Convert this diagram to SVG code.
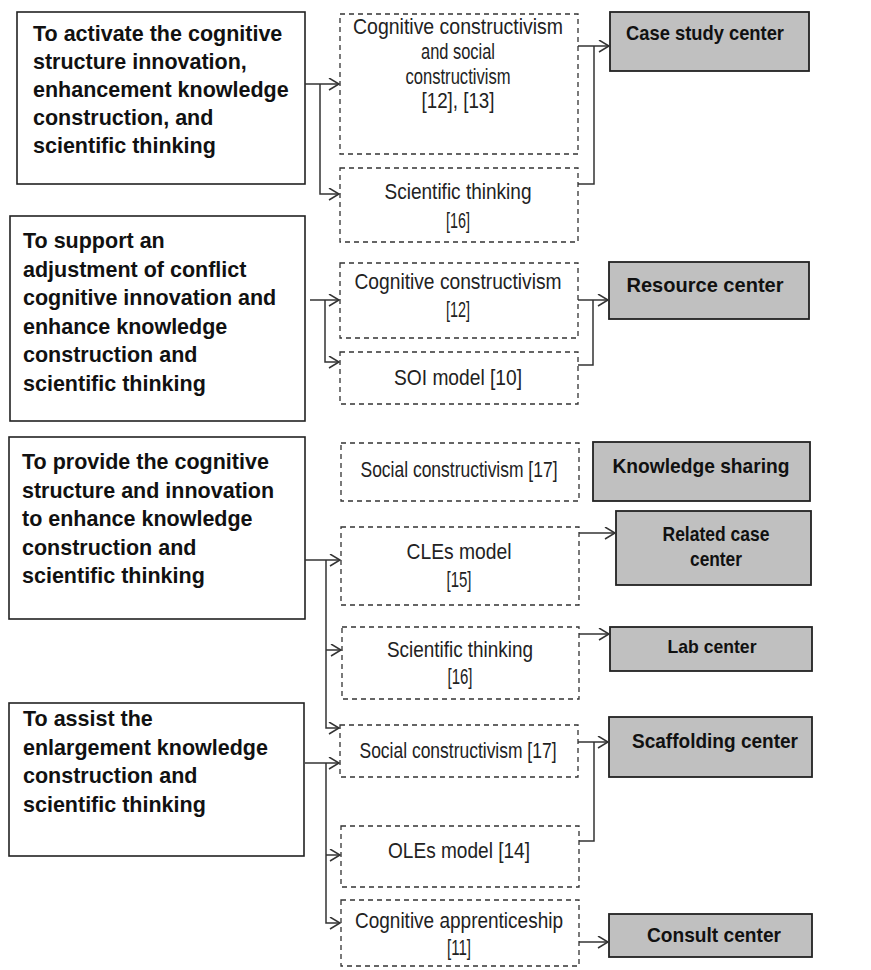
<svg xmlns="http://www.w3.org/2000/svg" width="871" height="970" viewBox="0 0 871 970">
<style>
.solid{fill:#fff;stroke:#222;stroke-width:1.6}
.dash{fill:#fff;stroke:#333;stroke-width:1.3;stroke-dasharray:5 4}
.gray{fill:#c0c0c0;stroke:#222;stroke-width:1.8}
.lt{font-family:"Liberation Sans",Arial,sans-serif;font-weight:bold;font-size:21.5px;fill:#111}
.mt{font-family:"Liberation Sans",Arial,sans-serif;font-size:22px;fill:#222;text-anchor:middle}
.rt{font-family:"Liberation Sans",Arial,sans-serif;font-weight:bold;font-size:21px;fill:#111;text-anchor:middle}
.conn{stroke:#333;stroke-width:1.5;fill:none}
</style>
<defs>
<marker id="arr" markerUnits="userSpaceOnUse" markerWidth="14" markerHeight="14" refX="11" refY="6" orient="auto">
<path d="M1,0 L11,6 L1,12" fill="none" stroke="#333" stroke-width="1.5"/>
</marker>
</defs>

<g id="goalA">
<rect class="solid" x="17" y="12" width="288" height="172"/>
<text class="lt" x="33" y="41">To activate the cognitive</text>
<text class="lt" x="33" y="69">structure innovation,</text>
<text class="lt" x="33" y="97">enhancement knowledge</text>
<text class="lt" x="33" y="125">construction, and</text>
<text class="lt" x="33" y="153">scientific thinking</text>
</g>
<g id="goalB">
<rect class="solid" x="10" y="216" width="295" height="205"/>
<text class="lt" x="23" y="248">To support an</text>
<text class="lt" x="23" y="276.5">adjustment of conflict</text>
<text class="lt" x="23" y="305">cognitive innovation and</text>
<text class="lt" x="23" y="333.5">enhance knowledge</text>
<text class="lt" x="23" y="362">construction and</text>
<text class="lt" x="23" y="390.5">scientific thinking</text>
</g>
<g id="goalC">
<rect class="solid" x="9" y="437" width="296" height="182"/>
<text class="lt" x="22" y="469">To provide the cognitive</text>
<text class="lt" x="22" y="497.5">structure and innovation</text>
<text class="lt" x="22" y="526">to enhance knowledge</text>
<text class="lt" x="22" y="554.5">construction and</text>
<text class="lt" x="22" y="583">scientific thinking</text>
</g>
<g id="goalD">
<rect class="solid" x="9" y="703" width="295" height="153"/>
<text class="lt" x="23" y="726">To assist the</text>
<text class="lt" x="23" y="754.5">enlargement knowledge</text>
<text class="lt" x="23" y="783">construction and</text>
<text class="lt" x="23" y="811.5">scientific thinking</text>
</g>

<g id="m1">
<rect class="dash" x="340" y="14" width="238" height="140"/>
<text class="mt" x="458" y="34" textLength="210" lengthAdjust="spacingAndGlyphs">Cognitive constructivism</text>
<text class="mt" x="458" y="59" textLength="74" lengthAdjust="spacingAndGlyphs">and social</text>
<text class="mt" x="458" y="84" textLength="105" lengthAdjust="spacingAndGlyphs">constructivism</text>
<text class="mt" x="458" y="108" textLength="73" lengthAdjust="spacingAndGlyphs">[12], [13]</text>
</g>
<g id="m2">
<rect class="dash" x="340" y="168" width="238" height="74"/>
<text class="mt" x="458" y="199" textLength="147" lengthAdjust="spacingAndGlyphs">Scientific thinking</text>
<text class="mt" x="458" y="228" textLength="24" lengthAdjust="spacingAndGlyphs">[16]</text>
</g>
<g id="m3">
<rect class="dash" x="340" y="263" width="238" height="75"/>
<text class="mt" x="458" y="289" textLength="207" lengthAdjust="spacingAndGlyphs">Cognitive constructivism</text>
<text class="mt" x="458" y="317" textLength="24" lengthAdjust="spacingAndGlyphs">[12]</text>
</g>
<g id="m4">
<rect class="dash" x="340" y="352" width="238" height="52"/>
<text class="mt" x="458" y="385" textLength="128" lengthAdjust="spacingAndGlyphs">SOI model [10]</text>
</g>
<g id="m5">
<rect class="dash" x="341" y="443" width="238" height="58"/>
<text class="mt" x="459" y="477" textLength="197" lengthAdjust="spacingAndGlyphs">Social constructivism [17]</text>
</g>
<g id="m6">
<rect class="dash" x="341" y="527" width="238" height="78"/>
<text class="mt" x="459" y="559" textLength="105" lengthAdjust="spacingAndGlyphs">CLEs model</text>
<text class="mt" x="459" y="587" textLength="25" lengthAdjust="spacingAndGlyphs">[15]</text>
</g>
<g id="m7">
<rect class="dash" x="342" y="627" width="237" height="72"/>
<text class="mt" x="460" y="657" textLength="146" lengthAdjust="spacingAndGlyphs">Scientific thinking</text>
<text class="mt" x="460" y="684" textLength="25" lengthAdjust="spacingAndGlyphs">[16]</text>
</g>
<g id="m8">
<rect class="dash" x="340" y="725" width="238" height="52"/>
<text class="mt" x="458" y="758" textLength="197" lengthAdjust="spacingAndGlyphs">Social constructivism [17]</text>
</g>
<g id="m9">
<rect class="dash" x="341" y="826" width="238" height="61"/>
<text class="mt" x="459" y="858" textLength="142" lengthAdjust="spacingAndGlyphs">OLEs model [14]</text>
</g>
<g id="m10">
<rect class="dash" x="341" y="900" width="238" height="66"/>
<text class="mt" x="459" y="928" textLength="208" lengthAdjust="spacingAndGlyphs">Cognitive apprenticeship</text>
<text class="mt" x="459" y="955" textLength="24" lengthAdjust="spacingAndGlyphs">[11]</text>
</g>

<g id="r1">
<rect class="gray" x="610" y="12" width="199" height="59"/>
<text class="rt" x="705" y="40" textLength="158" lengthAdjust="spacingAndGlyphs">Case study center</text>
</g>
<g id="r2">
<rect class="gray" x="609" y="262" width="200" height="57"/>
<text class="rt" x="705" y="292" textLength="157" lengthAdjust="spacingAndGlyphs">Resource center</text>
</g>
<g id="r3">
<rect class="gray" x="593" y="442" width="217" height="59"/>
<text class="rt" x="701" y="473" textLength="177" lengthAdjust="spacingAndGlyphs">Knowledge sharing</text>
</g>
<g id="r4">
<rect class="gray" x="616" y="511" width="195" height="74"/>
<text class="rt" x="716" y="541" textLength="107" lengthAdjust="spacingAndGlyphs">Related case</text>
<text class="rt" x="716" y="566" textLength="52" lengthAdjust="spacingAndGlyphs">center</text>
</g>
<g id="r5">
<rect class="gray" x="610" y="627" width="202" height="44"/>
<text class="rt" x="712" y="653" style="font-size:19px" textLength="89" lengthAdjust="spacingAndGlyphs">Lab center</text>
</g>
<g id="r6">
<rect class="gray" x="609" y="717" width="203" height="60"/>
<text class="rt" x="715" y="748" textLength="166" lengthAdjust="spacingAndGlyphs">Scaffolding center</text>
</g>
<g id="r7">
<rect class="gray" x="609" y="914" width="203" height="43"/>
<text class="rt" x="714" y="942" textLength="134" lengthAdjust="spacingAndGlyphs">Consult center</text>
</g>

<g id="connectors" class="conn">
<path d="M305,84 H339" marker-end="url(#arr)"/>
<path d="M320,84 V194 H339" marker-end="url(#arr)"/>
<path d="M578,46 H609" marker-end="url(#arr)"/>
<path d="M578,184 H594 V46"/>
<path d="M310,300 H339" marker-end="url(#arr)"/>
<path d="M325,300 V362 H339" marker-end="url(#arr)"/>
<path d="M578,300 H608" marker-end="url(#arr)"/>
<path d="M578,365 H593 V300"/>
<path d="M305,560 H340" marker-end="url(#arr)"/>
<path d="M326,560 V728 H339" marker-end="url(#arr)"/>
<path d="M326,650 H341" marker-end="url(#arr)"/>
<path d="M579,533 H615" marker-end="url(#arr)"/>
<path d="M579,634 H609" marker-end="url(#arr)"/>
<path d="M305,763 H339" marker-end="url(#arr)"/>
<path d="M326,763 V923 H340" marker-end="url(#arr)"/>
<path d="M326,855 H340" marker-end="url(#arr)"/>
<path d="M578,742 H608" marker-end="url(#arr)"/>
<path d="M579,841 H594 V742"/>
<path d="M579,942 H608" marker-end="url(#arr)"/>
</g>
</svg>
